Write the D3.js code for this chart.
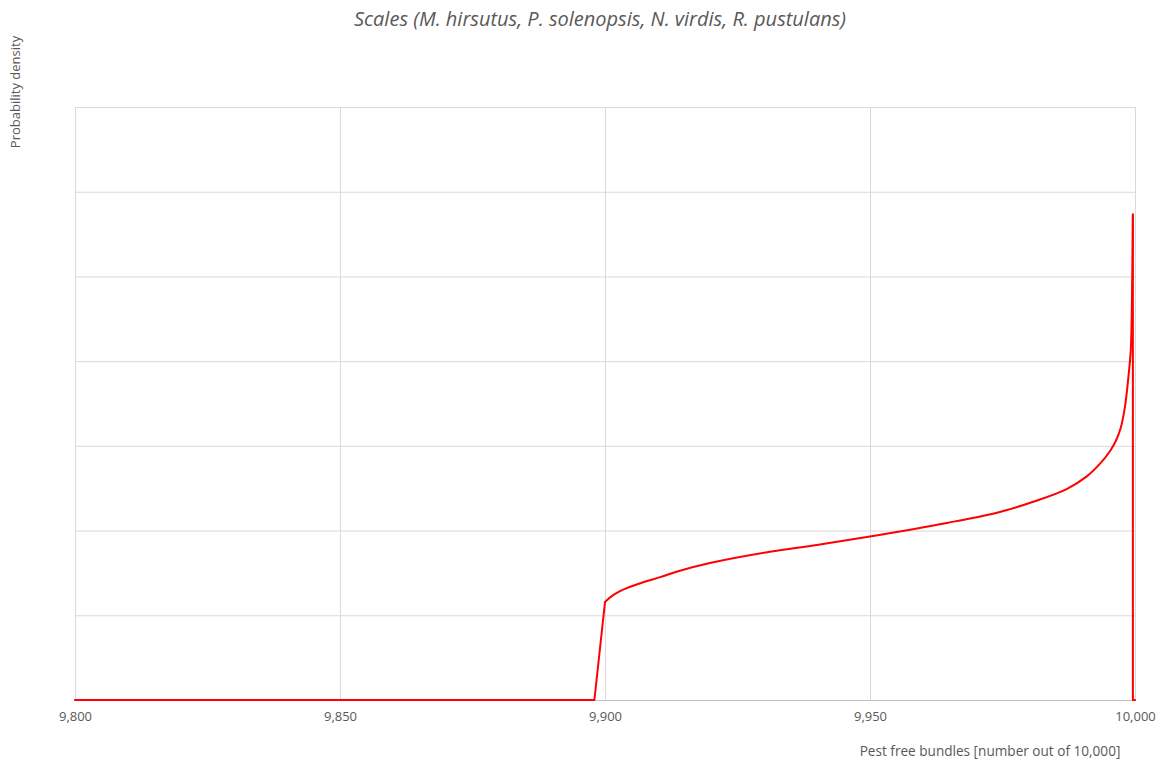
<!DOCTYPE html>
<html>
<head>
<meta charset="utf-8">
<script src="https://cdn.jsdelivr.net/npm/d3@7"></script>
<style>
  body { margin: 0; background: #fff; }
  text { font-family: "Open Sans", "Noto Sans", sans-serif; fill: #595959; }
</style>
</head>
<body>
<svg id="chart" width="1165" height="764"></svg>
<script>
// ---- data ----
const titleText = "Scales (M. hirsutus, P. solenopsis, N. virdis, R. pustulans)";
const xLabelText = "Pest free bundles [number out of 10,000]";
const yLabelText = "Probability density";
const xTicks = [9800, 9850, 9900, 9950, 10000];
const yGrid = [0, 1, 2, 3, 4, 5, 6, 7];
const xValues = [9800, 9898, 9900, 9901.6, 9904.1, 9907.2, 9910.4, 9913.8, 9920, 9931.1, 9940, 9950, 9964.5, 9974.5, 9980.8, 9987.1, 9990.9, 9993.4, 9995.3, 9996.4, 9997.3, 9998.1, 9998.7, 9999.2, 9999.4, 9999.6, 9999.6, 10000];
const densityValues = [0, 0, 1.157, 1.24, 1.32, 1.39, 1.45, 1.52, 1.62, 1.75, 1.83, 1.93, 2.09, 2.22, 2.34, 2.49, 2.64, 2.79, 2.94, 3.06, 3.21, 3.46, 3.78, 4.13, 4.60, 5.73, 0, 0];

// ---- layout ----
const svg = d3.select("#chart");
const m = { left: 75, right: 1135, top: 107, bottom: 700 };

const x = d3.scaleLinear().domain([9800, 10000]).range([m.left, m.right]);
const y = d3.scaleLinear().domain([0, 7]).range([m.bottom, m.top]);

// horizontal gridlines
svg.append("g")
  .attr("transform", `translate(${m.left},0)`)
  .call(d3.axisLeft(y).tickValues(yGrid).tickSize(-(m.right - m.left)).tickFormat(""))
  .call(g => g.select(".domain").remove())
  .call(g => g.selectAll("line").attr("stroke", "#d9d9d9").attr("stroke-width", 1));

// vertical gridlines
svg.append("g")
  .attr("transform", `translate(0,${m.top})`)
  .call(d3.axisBottom(x).tickValues(xTicks).tickSize(m.bottom - m.top).tickFormat(""))
  .call(g => g.select(".domain").remove())
  .call(g => g.selectAll("line").attr("stroke", "#d9d9d9").attr("stroke-width", 1));

// x axis
svg.append("g")
  .attr("transform", `translate(0,${m.bottom})`)
  .call(d3.axisBottom(x).tickValues(xTicks).tickSize(0).tickPadding(12).tickFormat(d3.format(",")))
  .call(g => g.select(".domain").attr("stroke", "#bfbfbf").attr("stroke-width", 1))
  .call(g => g.selectAll("text").style("font-size", "13px").attr("fill", "#595959")
      .style("font-family", "'Open Sans', sans-serif"));

// line: straight segments for the step parts, smooth for the density body
const pts = xValues.map((v, i) => [v, densityValues[i]]);
const n = pts.length;
const lineLin = d3.line().x(d => x(d[0])).y(d => y(d[1]));
const lineSmooth = d3.line().x(d => x(d[0])).y(d => y(d[1])).curve(d3.curveCatmullRom.alpha(0.5));
const segs = [
  { d: pts.slice(0, 3), gen: lineLin },
  { d: pts.slice(2, n - 2), gen: lineSmooth },
  { d: pts.slice(n - 3), gen: lineLin }
];
svg.append("g").selectAll("path")
  .data(segs)
  .join("path")
  .attr("fill", "none")
  .attr("stroke", "#ff0000")
  .attr("stroke-width", 2)
  .attr("stroke-linejoin", "round")
  .attr("stroke-linecap", "round")
  .attr("d", s => s.gen(s.d));

// title
svg.append("text")
  .attr("x", 600).attr("y", 26)
  .attr("text-anchor", "middle")
  .style("font-size", "20px").style("font-style", "italic")
  .text(titleText);

// axis titles
svg.append("text")
  .attr("x", 990).attr("y", 756)
  .attr("text-anchor", "middle")
  .style("font-size", "13.6px")
  .text(xLabelText);

svg.append("text")
  .attr("transform", "translate(20,92) rotate(-90)")
  .attr("text-anchor", "middle")
  .style("font-size", "13px")
  .text(yLabelText);
</script>
</body>
</html>
